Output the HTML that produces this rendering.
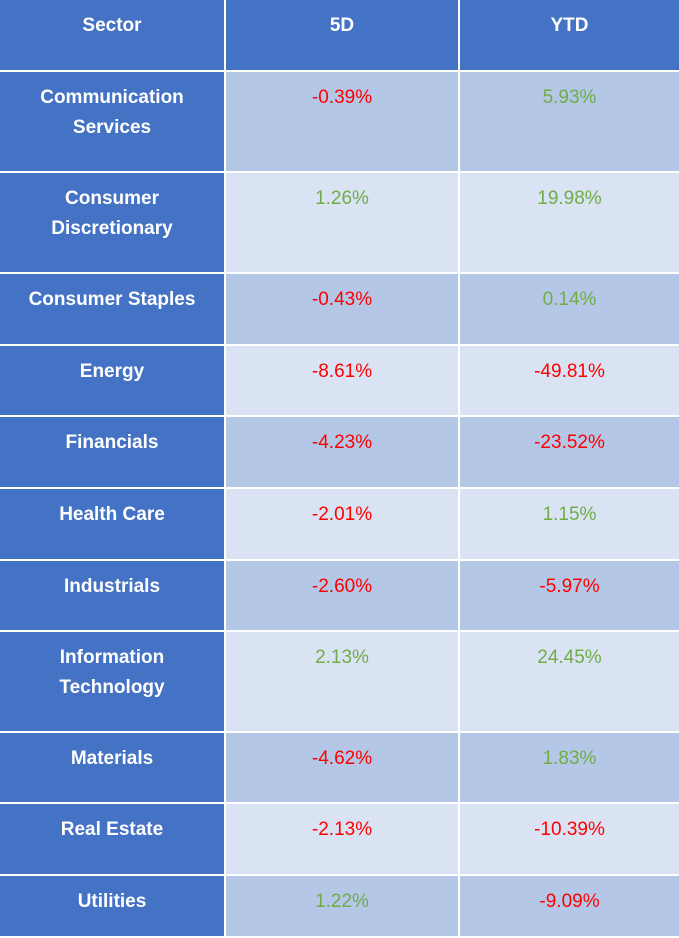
<!DOCTYPE html>
<html><head><meta charset="utf-8"><style>
body{margin:0;width:679px;height:938px;background:#fff;font-family:"Liberation Sans",Arial,sans-serif;position:relative;overflow:hidden}
.c{position:absolute;box-sizing:border-box;text-align:center;font-size:19px;line-height:30px;padding-top:11px}
.h{background:#4472C4;color:#fff;font-weight:bold}
.a{background:#B4C7E7}.b{background:#DAE3F3}
.r{color:#FF0000}.g{color:#70AD47}
</style></head><body>
<div id="t"></div>
<script>
const sectors=["Communication Services","Consumer Discretionary","Consumer Staples","Energy","Financials","Health Care","Industrials","Information Technology","Materials","Real Estate","Utilities"];
const fiveD=[-0.39,1.26,-0.43,-8.61,-4.23,-2.01,-2.60,2.13,-4.62,-2.13,1.22];
const ytd=[5.93,19.98,0.14,-49.81,-23.52,1.15,-5.97,24.45,1.83,-10.39,-9.09];
const rowEdges=[0,72,173,274,346,417,489,561,632,733,804,876,938];
const colEdges=[0,226,460,679];
const t=document.getElementById('t');
function cell(x0,x1,y0,y1,cls,txt,name){
  const d=document.createElement('div');
  d.className='c '+cls;
  d.style.left=x0+'px';d.style.top=y0+'px';
  d.style.width=(x1-x0-(x1<679?2:0))+'px';d.style.height=(y1-y0-2)+'px';
  d.innerHTML=txt;
  
  
  t.appendChild(d);
}
const heads=["Sector","5D","YTD"];
heads.forEach((h,i)=>cell(colEdges[i],colEdges[i+1],0,72,'h',h,'header-'+h.toLowerCase()));
const labels={"Communication Services":"Communication<br>Services","Consumer Discretionary":"Consumer<br>Discretionary","Information Technology":"Information<br>Technology"};
sectors.forEach((s,i)=>{
  const y0=rowEdges[i+1],y1=rowEdges[i+2];
  const bg=i%2===0?'a':'b';
  const key=s.toLowerCase().replace(/ /g,'-');
  cell(colEdges[0],colEdges[1],y0,y1,'h',labels[s]||s,'sector-'+key);
  [fiveD[i],ytd[i]].forEach((v,j)=>{
    cell(colEdges[j+1],colEdges[j+2],y0,y1,bg+' '+(v<0?'r':'g'),v.toFixed(2)+'%',(j?'ytd-':'5d-')+key);
  });
});
</script>
</body></html>
